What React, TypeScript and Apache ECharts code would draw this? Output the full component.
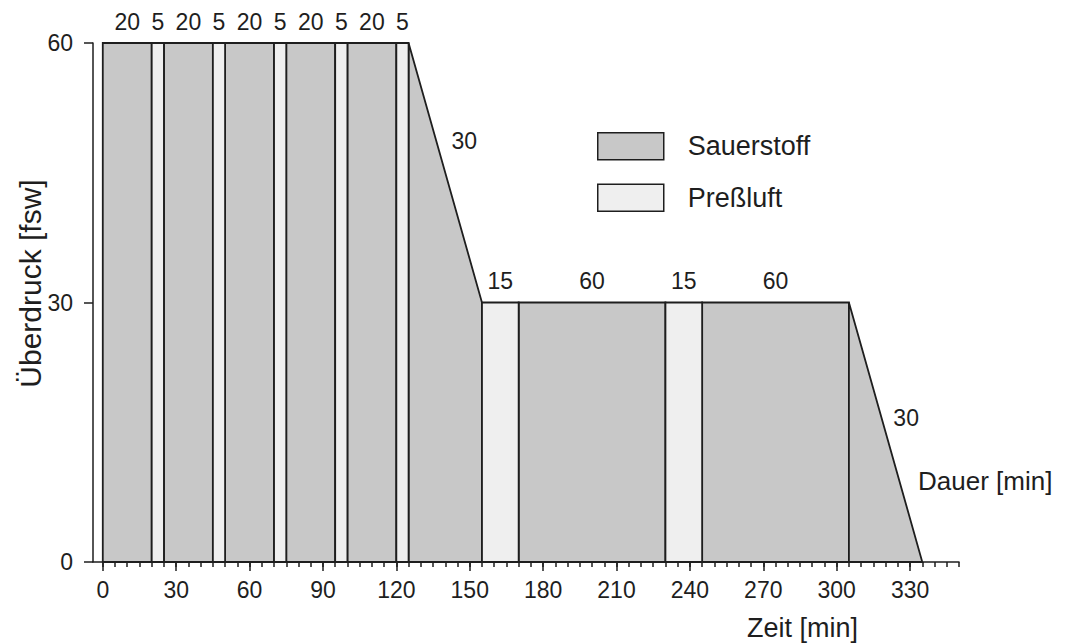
import React, { useEffect, useRef } from 'react';
import * as echarts from 'echarts';

const FONT = "'Liberation Sans', Arial, Helvetica, sans-serif";
const INK = '#1e1e1e';
const O2_FILL = '#c8c8c8';
const AIR_FILL = '#efefef';

// Sauerstoff (oxygen) phases: start/end time [min], start/end depth [fsw]
const o2Start = [0, 25, 50, 75, 100, 125, 170, 245, 305];
const o2End = [20, 45, 70, 95, 120, 155, 230, 305, 335];
const o2DepthStart = [60, 60, 60, 60, 60, 60, 30, 30, 30];
const o2DepthEnd = [60, 60, 60, 60, 60, 30, 30, 30, 0];

// Preßluft (air) phases
const airStart = [20, 45, 70, 95, 120, 155, 230];
const airEnd = [25, 50, 75, 100, 125, 170, 245];
const airDepthStart = [60, 60, 60, 60, 60, 30, 30];
const airDepthEnd = [60, 60, 60, 60, 60, 30, 30];

// Duration labels (time, depth, text, above-the-line or centred)
const labelTimes = [10, 22.5, 35, 47.5, 60, 72.5, 85, 97.5, 110, 122.5, 162.5, 200, 237.5, 275, 147.8, 328.4];
const labelDepths = [60, 60, 60, 60, 60, 60, 60, 60, 60, 60, 30, 30, 30, 30, 48.7, 16.6];
const labelTexts = ['20', '5', '20', '5', '20', '5', '20', '5', '20', '5', '15', '60', '15', '60', '30', '30'];
const labelOnTop = [1, 1, 1, 1, 1, 1, 1, 1, 1, 1, 1, 1, 1, 1, 0, 0];

const xMajorTicks = [0, 30, 60, 90, 120, 150, 180, 210, 240, 270, 300, 330];
const xMinorTicks: number[] = [];
for (let v = 0; v <= 350; v += 5) xMinorTicks.push(v);

const makeRender = (fill: string) => (params: any, api: any) => {
  const t0 = api.value(0);
  const t1 = api.value(1);
  const d0 = api.value(2);
  const d1 = api.value(3);
  const pts = [api.coord([t0, 0]), api.coord([t0, d0]), api.coord([t1, d1]), api.coord([t1, 0])];
  return {
    type: 'polygon',
    shape: { points: pts },
    style: { fill, stroke: INK, lineWidth: 1.8, lineJoin: 'miter' },
  };
};

const renderLabel = (params: any, api: any) => {
  const t = api.value(0);
  const d = api.value(1);
  const onTop = api.value(3) === 1;
  const p = api.coord([t, d]);
  return {
    type: 'text',
    x: p[0],
    y: onTop ? p[1] - 10 : p[1],
    style: {
      text: labelTexts[params.dataIndex],
      fontSize: 23,
      fill: INK,
      fontFamily: FONT,
      align: 'center',
      verticalAlign: onTop ? 'bottom' : 'middle',
    },
  };
};

export default function App() {
  const ref = useRef<HTMLDivElement>(null);
  useEffect(() => {
    if (!ref.current) return;
    const chart = echarts.init(ref.current, undefined, { renderer: 'svg' });
    const o2Data = o2Start.map((s, i) => [s, o2End[i], o2DepthStart[i], o2DepthEnd[i]]);
    const airData = airStart.map((s, i) => [s, airEnd[i], airDepthStart[i], airDepthEnd[i]]);
    const labelData = labelTimes.map((t, i) => [t, labelDepths[i], labelTexts[i], labelOnTop[i]]);
    chart.setOption({
      animation: false,
      backgroundColor: '#ffffff',
      grid: { left: 93, right: 106, top: 43, bottom: 82, containLabel: false },
      legend: {
        left: 597,
        top: 132,
        padding: 0,
        orient: 'vertical',
        itemWidth: 66,
        itemHeight: 27,
        itemGap: 23,
        icon: 'rect',
        selectedMode: false,
        itemStyle: { borderColor: INK, borderWidth: 1.5 },
        textStyle: { fontSize: 27, color: INK, fontFamily: FONT, padding: [0, 0, 0, 19] },
        data: ['Sauerstoff', 'Preßluft'],
      },
      xAxis: [
        {
          type: 'value',
          min: -4,
          max: 350,
          splitLine: { show: false },
          axisLine: { show: true, onZero: false, lineStyle: { color: INK, width: 1.5 } },
          axisTick: { show: true, length: 9, customValues: xMajorTicks, lineStyle: { color: INK, width: 1.5 } },
          axisLabel: { customValues: xMajorTicks, fontSize: 23, color: INK, fontFamily: FONT, margin: 16 },
        },
        {
          type: 'value',
          min: -4,
          max: 350,
          position: 'bottom',
          splitLine: { show: false },
          axisLine: { show: false, onZero: false },
          axisTick: { show: true, length: 5, customValues: xMinorTicks, lineStyle: { color: INK, width: 1.5 } },
          axisLabel: { show: false },
        },
      ],
      yAxis: {
        type: 'value',
        min: 0,
        max: 60,
        interval: 30,
        name: 'Überdruck [fsw]',
        nameLocation: 'middle',
        nameGap: 48,
        nameRotate: 90,
        nameMoveOverlap: false,
        nameTextStyle: { fontSize: 30, color: INK, fontFamily: FONT, padding: [0, 0, 0, 38] },
        splitLine: { show: false },
        axisLine: { show: true, onZero: false, lineStyle: { color: INK, width: 1.5 } },
        axisTick: { show: true, length: 9, lineStyle: { color: INK, width: 1.5 } },
        axisLabel: { fontSize: 23, color: INK, fontFamily: FONT, margin: 20 },
      },
      graphic: [
        {
          type: 'text',
          left: 747,
          top: 614,
          style: { text: 'Zeit [min]', fontSize: 27, fill: INK, fontFamily: FONT },
        },
        {
          type: 'text',
          left: 918,
          top: 468,
          style: { text: 'Dauer [min]', fontSize: 26, fill: INK, fontFamily: FONT },
        },
      ],
      series: [
        {
          name: 'Sauerstoff',
          type: 'custom',
          renderItem: makeRender(O2_FILL),
          itemStyle: { color: O2_FILL },
          encode: { x: [0, 1], y: [2, 3] },
          data: o2Data,
          z: 2,
        },
        {
          name: 'Preßluft',
          type: 'custom',
          renderItem: makeRender(AIR_FILL),
          itemStyle: { color: AIR_FILL },
          encode: { x: [0, 1], y: [2, 3] },
          data: airData,
          z: 2,
        },
        {
          name: 'Dauer',
          type: 'custom',
          renderItem: renderLabel,
          encode: { x: 0, y: 1 },
          data: labelData,
          silent: true,
          z: 5,
        },
      ],
    });
    return () => chart.dispose();
  }, []);
  return (
    <div
      ref={ref}
      style={{ position: 'fixed', left: 0, top: 0, width: 1065, height: 644, background: '#fff' }}
    />
  );
}
